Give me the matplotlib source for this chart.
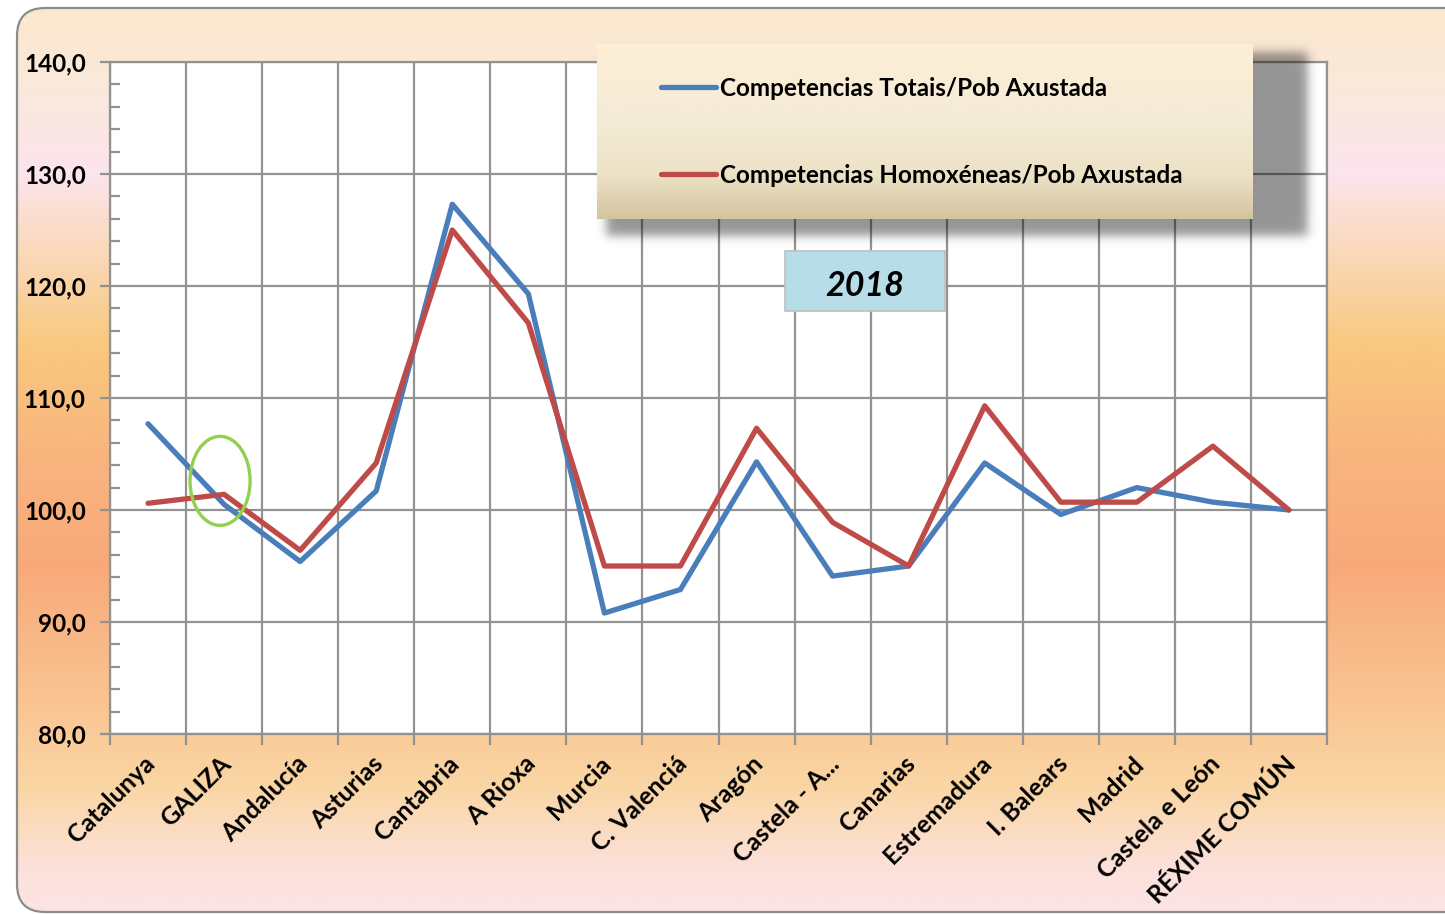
import numpy as np
import matplotlib
matplotlib.use("Agg")
import matplotlib.pyplot as plt
from matplotlib.colors import LinearSegmentedColormap
from matplotlib.patches import FancyBboxPatch, Rectangle, Ellipse
from matplotlib.ticker import MultipleLocator, FuncFormatter, FixedLocator
import matplotlib.transforms as mtrans

plt.rcParams['font.family'] = ['Lato', 'DejaVu Sans']

categories = ["Catalunya", "GALIZA", "Andalucía", "Asturias", "Cantabria", "A Rioxa",
              "Murcia", "C. Valenciá", "Aragón", "Castela - A...", "Canarias",
              "Estremadura", "I. Balears", "Madrid", "Castela e León", "RÉXIME COMÚN"]
totais = [107.7, 100.5, 95.4, 101.7, 127.3, 119.3, 90.8, 92.9, 104.3, 94.1, 95.0,
          104.2, 99.6, 102.0, 100.7, 100.0]
homoxeneas = [100.6, 101.4, 96.4, 104.2, 125.0, 116.7, 95.0, 95.0, 107.3, 98.9, 95.0,
              109.3, 100.7, 100.7, 105.7, 100.0]
series_names = ["Competencias Totais/Pob Axustada", "Competencias Homoxéneas/Pob Axustada"]
year_label = "2018"

W, H = 1445, 915
fig = plt.figure(figsize=(W / 100, H / 100), dpi=100)
fig.patch.set_facecolor("white")

# ---- background panel with vertical gradient ----
bg = fig.add_axes([0, 0, 1, 1], zorder=-1)
bg.set_xlim(0, W)
bg.set_ylim(H, 0)
bg.axis("off")
stops = [(0.00, "#FBE9CC"), (0.10, "#FAE8DC"), (0.19, "#FCE4EC"), (0.28, "#FAD8B6"),
         (0.38, "#F9C87D"), (0.50, "#F9B47E"), (0.62, "#F8A97A"), (0.74, "#F9BF8D"),
         (0.86, "#FAD6A4"), (0.95, "#FCE1DA"), (1.00, "#FCE4E4")]
cmap = LinearSegmentedColormap.from_list("bgg", stops)
grad = np.linspace(0, 1, 512).reshape(-1, 1)
im = bg.imshow(grad, cmap=cmap, aspect="auto", extent=(0, W, H, 0), interpolation="bilinear")
panel = FancyBboxPatch((17, 8), W + 30 - 17, 912 - 8,
                       boxstyle="round,pad=0,rounding_size=28",
                       facecolor="none", edgecolor="#8C8C8C", linewidth=1.6)
bg.add_patch(panel)
im.set_clip_path(panel)

# ---- main axes ----
x0, x1, y0, y1 = 110, 1327, 62, 734
ax = fig.add_axes([x0 / W, 1 - y1 / H, (x1 - x0) / W, (y1 - y0) / H], zorder=0)
ax.set_facecolor("white")
n = len(categories)
xs = np.arange(n)
l1, = ax.plot(xs, totais, color="#4A7EBB", lw=3.8, solid_joinstyle="round",
              solid_capstyle="round", zorder=3)
l2, = ax.plot(xs, homoxeneas, color="#BE4B48", lw=3.8, solid_joinstyle="round",
              solid_capstyle="round", zorder=4)
ax.set_xlim(-0.5, n - 0.5)
ax.set_ylim(80, 140)

gc = "#929292"
for s in ax.spines.values():
    s.set_color(gc)
    s.set_linewidth(1.6)

ax.yaxis.set_major_locator(MultipleLocator(10))
ax.yaxis.set_minor_locator(MultipleLocator(2))
ax.yaxis.set_major_formatter(FuncFormatter(lambda v, p: f"{v:.1f}".replace(".", ",")))
ax.tick_params(axis="y", which="major", direction="out", length=7, width=1.6, color=gc,
               pad=10.5, labelsize=17.5)
ax.tick_params(axis="y", which="minor", direction="in", length=7, width=1.6, color=gc)
for t in ax.get_yticklabels():
    t.set_fontweight("bold")

ax.xaxis.set_major_locator(FixedLocator(xs))
ax.xaxis.set_minor_locator(FixedLocator(np.arange(-0.5, n, 1.0)))
ax.set_xticklabels(categories, rotation=45, ha="right", va="top",
                   rotation_mode="anchor", fontweight="bold", fontsize=18)
ax.tick_params(axis="x", which="major", length=0, pad=13)
ax.tick_params(axis="x", which="minor", direction="out", length=8, width=1.6, color=gc)
offset = mtrans.ScaledTranslation(-5 / 100, 0, fig.dpi_scale_trans)
for t in ax.get_xticklabels():
    t.set_transform(t.get_transform() + offset)

ax.grid(True, axis="y", which="major", color=gc, lw=1.6, zorder=1)
ax.grid(True, axis="x", which="minor", color=gc, lw=1.6, zorder=1)
ax.set_axisbelow(True)

ax.add_patch(Ellipse((0.947, 102.6), 0.79, 7.95, facecolor="none",
                     edgecolor="#92D050", lw=2.4, zorder=6))

# ---- overlay: shadow, legend box, year box ----
ov = fig.add_axes([0, 0, 1, 1], zorder=1)
ov.set_xlim(0, W)
ov.set_ylim(H, 0)
ov.axis("off")
ov.patch.set_alpha(0)

sx0, sx1, sy0, sy1 = 600, 1314, 46, 242
blur = 9.0
gx = np.arange(sx0 - 20, sx1 + 20)
gy = np.arange(sy0 - 20, sy1 + 20)
def soft(v, a, b):
    return 1 / (1 + np.exp(-(v - a) / (blur / 3))) * 1 / (1 + np.exp((v - b) / (blur / 3)))
A = np.outer(soft(gy, sy0 + 6, sy1 - 6), soft(gx, sx0 + 6, sx1 - 6)) * 0.42
rgba = np.zeros(A.shape + (4,))
rgba[..., 3] = A
ov.imshow(rgba, extent=(gx[0], gx[-1], gy[-1], gy[0]), aspect="auto",
          interpolation="bilinear", zorder=1)

lx0, lx1, ly0, ly1 = 597, 1253, 44, 219
lstops = [(0.0, "#FEEFD6"), (0.45, "#F4EBD6"), (0.75, "#EDE2C6"), (1.0, "#D3C4A0")]
lcmap = LinearSegmentedColormap.from_list("lg", lstops)
ov.imshow(np.linspace(0, 1, 256).reshape(-1, 1), cmap=lcmap, aspect="auto",
          extent=(lx0, lx1, ly1, ly0), interpolation="bilinear", zorder=2)

ov.add_patch(Rectangle((785, 251), 160, 60, facecolor="#B7DDE8", edgecolor="#BFBFBF",
                       lw=1.2, zorder=3))
ov.text(865, 286, year_label, ha="center", va="center", fontsize=24.5,
        fontweight="bold", fontstyle="italic", zorder=4)

leg = fig.legend([l1, l2], series_names, loc="upper left",
                 bbox_to_anchor=(639 / W, 1 - 55 / H), frameon=False,
                 handlelength=2.26, handletextpad=0.16, labelspacing=2.63,
                 prop={"weight": "bold", "size": 17.5, "family": ["Lato", "DejaVu Sans"]})
leg.set_zorder(10)

fig.savefig("out.png", dpi=100)
